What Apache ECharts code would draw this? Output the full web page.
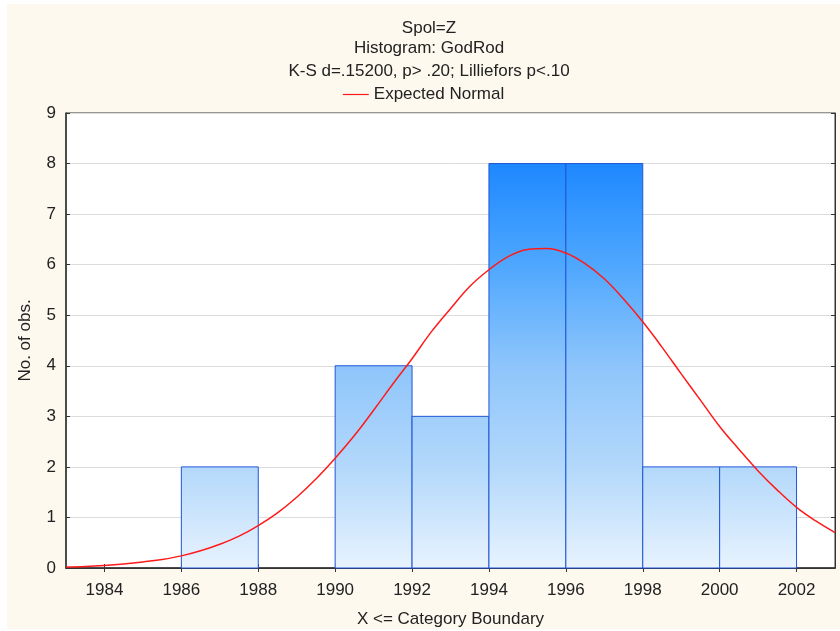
<!DOCTYPE html>
<html>
<head>
<meta charset="utf-8">
<script src="https://cdn.jsdelivr.net/npm/echarts@6/dist/echarts.min.js"></script>
<style>
  html, body { margin: 0; padding: 0; background: #fff; }
  #chart { position: absolute; left: 7px; top: 4px; width: 833px; height: 625px; background: #fdf9ef; }
</style>
</head>
<body>
<div id="chart"></div>
<script>
// histogram bins (upper boundary = category boundary)
const binStart = [1984, 1986, 1988, 1990, 1992, 1994, 1996, 1998, 2000]
const binEnd = [1986, 1988, 1990, 1992, 1994, 1996, 1998, 2000, 2002]
const counts = [0, 2, 0, 4, 3, 8, 8, 2, 2]

// expected normal curve, every half year
const curveX = [1983, 1983.5, 1984, 1984.5, 1985, 1985.5, 1986, 1986.5, 1987, 1987.5,
  1988, 1988.5, 1989, 1989.5, 1990, 1990.5, 1991, 1991.5, 1992, 1992.5,
  1993, 1993.5, 1994, 1994.5, 1995, 1995.5, 1996, 1996.5, 1997, 1997.5,
  1998, 1998.5, 1999, 1999.5, 2000, 2000.5, 2001, 2001.5, 2002, 2002.5, 2003]
const curveY = [0.02, 0.03, 0.05, 0.08, 0.12, 0.17, 0.24, 0.34, 0.47, 0.63,
  0.84, 1.09, 1.4, 1.76, 2.17, 2.62, 3.12, 3.64, 4.14, 4.67,
  5.13, 5.57, 5.9, 6.16, 6.3, 6.32, 6.23, 6.02, 5.72, 5.32,
  4.87, 4.37, 3.84, 3.32, 2.8, 2.35, 1.92, 1.54, 1.2, 0.93, 0.7]

const xTicks = [1984, 1986, 1988, 1990, 1992, 1994, 1996, 1998, 2000, 2002]

const titles = ['Spol=Z', 'Histogram: GodRod', 'K-S d=.15200, p> .20; Lilliefors p<.10']

const chart = echarts.init(document.getElementById('chart'))

const histData = binStart.map((s, i) => [s, binEnd[i], counts[i]])
const curveData = curveX.map((x, i) => [x, curveY[i]])

const txt = { fontFamily: 'Liberation Sans, Arial, sans-serif', fontSize: 17, color: '#222' }

chart.setOption({
  animation: false,
  title: titles.map((t, i) => ({
    text: t,
    left: 422,
    textAlign: 'center',
    top: [14, 34, 57][i],
    padding: 0,
    textStyle: Object.assign({ fontWeight: 'normal', lineHeight: 20 }, txt)
  })),
  legend: {
    top: 82,
    left: 'center',
    itemWidth: 26,
    itemHeight: 16,
    itemGap: 8,
    padding: 0,
    textStyle: txt,
    data: [{ name: 'Expected Normal', icon: 'path://M0,7.4 L26,7.4 L26,8.6 L0,8.6 Z' }]
  },
  grid: {
    left: 59,
    top: 109,
    right: 5,
    bottom: 61,
    outerBoundsMode: 'none',
    show: true,
    backgroundColor: '#fff',
    borderColor: '#333',
    borderWidth: 1
  },
  xAxis: [{
    type: 'value',
    min: 1983,
    max: 2003,
    name: 'X <= Category Boundary',
    nameLocation: 'middle',
    nameGap: 43,
    nameTextStyle: txt,
    axisLine: { show: true, onZero: false, lineStyle: { color: '#333', width: 1.5 } },
    axisTick: { show: true, inside: true, length: 4, customValues: xTicks, lineStyle: { color: '#333' } },
    axisLabel: Object.assign({ customValues: xTicks, margin: 14, formatter: v => String(v) }, txt),
    splitLine: { show: false }
  }, {
    type: 'value',
    position: 'top',
    min: 1983,
    max: 2003,
    axisLine: { show: true, lineStyle: { color: '#333' } },
    axisTick: { show: true, inside: true, length: 4, customValues: xTicks, lineStyle: { color: '#333' } },
    axisLabel: { show: false },
    splitLine: { show: false }
  }],
  yAxis: [{
    type: 'value',
    min: 0,
    max: 9,
    interval: 1,
    name: 'No. of obs.',
    nameLocation: 'middle',
    nameGap: 32,
    nameTextStyle: txt,
    axisLine: { show: true, lineStyle: { color: '#333', width: 1.5 } },
    axisTick: { show: true, inside: true, length: 4, lineStyle: { color: '#333' } },
    axisLabel: Object.assign({ margin: 10 }, txt),
    splitLine: { show: true, lineStyle: { color: '#dcdcdc', width: 1 } }
  }, {
    type: 'value',
    position: 'right',
    min: 0,
    max: 9,
    interval: 1,
    axisLine: { show: true, lineStyle: { color: '#333' } },
    axisTick: { show: true, inside: true, length: 4, lineStyle: { color: '#333' } },
    axisLabel: { show: false },
    splitLine: { show: false }
  }],
  series: [{
    name: 'Histogram',
    type: 'custom',
    data: histData,
    encode: { x: [0, 1], y: 2 },
    z: 2,
    renderItem(params, api) {
      const n = api.value(2)
      if (!n) return null
      const p0 = api.coord([api.value(0), n])
      const p1 = api.coord([api.value(1), 0])
      const yTop = api.coord([api.value(0), 9])[1]
      return {
        type: 'rect',
        shape: { x: p0[0], y: p0[1], width: p1[0] - p0[0], height: p1[1] - p0[1] },
        style: {
          fill: {
            type: 'linear',
            x: 0, y: yTop, x2: 0, y2: p1[1],
            global: true,
            colorStops: [
              { offset: 0, color: '#0f7eff' },
              { offset: 0.111, color: '#1e88ff' },
              { offset: 0.333, color: '#4ea7fe' },
              { offset: 0.556, color: '#8ec5fb' },
              { offset: 0.778, color: '#b3d8fb' },
              { offset: 1, color: '#e8f3fe' }
            ]
          },
          stroke: '#1f55d6',
          lineWidth: 1
        }
      }
    }
  }, {
    name: 'Expected Normal',
    type: 'line',
    data: curveData,
    smooth: 0.4,
    symbol: 'none',
    z: 3,
    itemStyle: { color: '#ff1a1a' },
    lineStyle: { color: '#ff1a1a', width: 1.5 }
  }]
})
</script>
</body>
</html>
